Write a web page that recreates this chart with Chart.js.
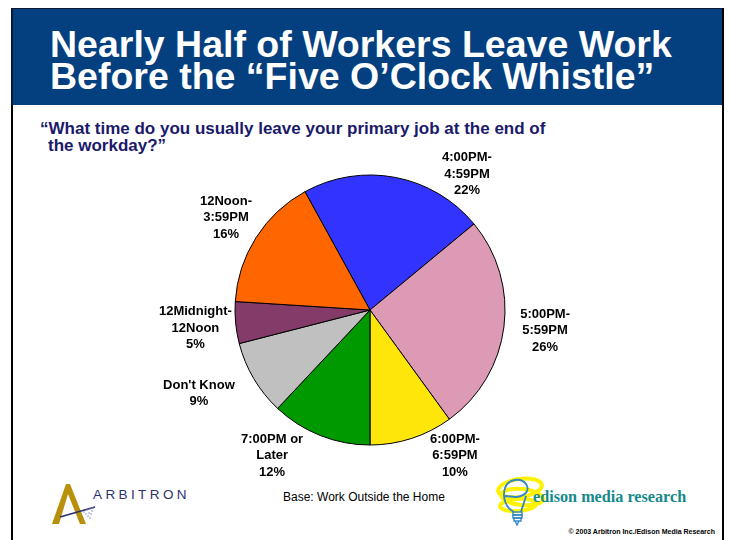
<!DOCTYPE html>
<html>
<head>
<meta charset="utf-8">
<script src="https://cdn.jsdelivr.net/npm/chart.js@4"></script>
<style>
  html, body { margin:0; padding:0; }
  body { width:730px; height:540px; position:relative; overflow:hidden; background:#fff;
         font-family:"Liberation Sans", Arial, sans-serif; }
  #frame { position:absolute; left:11px; top:8px; width:713px; height:540px; box-sizing:border-box;
           border-left:2px solid #000; border-right:2px solid #000; }
  #banner { position:absolute; left:11px; top:8px; width:713px; height:97px; box-sizing:border-box;
            background:#043F80; border-top:1px solid #0b1836; border-left:2px solid #0b1836; border-right:2px solid #000; }
  #title { position:absolute; left:50px; top:28px; color:#fff; font-weight:bold; font-size:37.5px;
           line-height:32px; white-space:nowrap; }
  #question { position:absolute; left:40px; top:120px; color:#1a1a6b; font-weight:bold; font-size:17px;
              line-height:17px; white-space:nowrap; }
  #question span { padding-left:8px; }
  #base { position:absolute; left:283px; top:490px; font-size:12px; line-height:14px; color:#000; white-space:nowrap; }
  #copy { position:absolute; right:15px; top:528px; font-size:7px; font-weight:bold; line-height:8px; color:#000; white-space:nowrap; }
  #arb { position:absolute; left:93px; top:487px; font-size:13.5px; line-height:16px; letter-spacing:3.4px; color:#2d3170; white-space:nowrap; }
  #edison { position:absolute; left:533px; top:488px; font-family:"Liberation Serif", "Times New Roman", serif;
            font-weight:bold; font-size:16.2px; line-height:18px; color:#168a8a; white-space:nowrap; }
  canvas { position:absolute; left:0; top:0; }
  svg { position:absolute; }
</style>
</head>
<body>
<div id="frame"></div>
<div id="banner"></div>
<div id="title">Nearly Half of Workers Leave Work<br>Before the “Five O’Clock Whistle”</div>
<div id="question">“What time do you usually leave your primary job at the end of<br><span>the workday?”</span></div>

<svg style="left:44px;top:478px" width="60" height="52" viewBox="44 478 60 52">
  <polygon points="52,524 66,484 70,484 86,524 80,524 68,494 59,524" fill="#B8900C"/>
  <line x1="60" y1="517" x2="95" y2="507" stroke="#2d3170" stroke-width="1.6"/>
  <g fill="#8a90c0">
    <circle cx="84" cy="512" r="0.8"/><circle cx="87" cy="510" r="0.8"/><circle cx="90" cy="509" r="0.8"/>
    <circle cx="93" cy="508" r="0.8"/><circle cx="86" cy="514" r="0.8"/><circle cx="89" cy="513" r="0.8"/>
    <circle cx="92" cy="511" r="0.8"/><circle cx="88" cy="516" r="0.8"/><circle cx="91" cy="514" r="0.8"/>
    <circle cx="90" cy="518" r="0.8"/>
  </g>
</svg>
<div id="arb">ARBITRON</div>

<svg style="left:494px;top:470px" width="56" height="58" viewBox="494 470 56 58">
  <g fill="none" stroke="#FFF200" stroke-width="4">
    <ellipse cx="520" cy="488" rx="22" ry="9" transform="rotate(-8 520 488)"/>
    <ellipse cx="522" cy="497" rx="21" ry="8" transform="rotate(6 522 497)"/>
    <ellipse cx="518" cy="505" rx="18" ry="6" transform="rotate(-4 518 505)"/>
  </g>
  <path d="M514,512 C506,508 502,498 505,488 C508,479 521,477 526,484 C530,490 526,496 516,497 L505,496 M526,496 C524,503 522,508 521,512"
        fill="none" stroke="#2f86c8" stroke-width="1.8"/>
  <g fill="none" stroke="#2f86c8" stroke-width="1.4">
    <rect x="513" y="512" width="9" height="3"/>
    <rect x="513" y="515" width="9" height="3"/>
    <rect x="514" y="518" width="7" height="3"/>
    <path d="M515,521 L517,525 L519,521"/>
  </g>
</svg>
<div id="edison">edison media research</div>
<div id="base">Base: Work Outside the Home</div>
<div id="copy">© 2003 Arbitron Inc./Edison Media Research</div>

<canvas id="c" width="730" height="540"></canvas>
<script>
// ---- data ----
const categories = ["4:00PM-\n4:59PM", "5:00PM-\n5:59PM", "6:00PM-\n6:59PM", "7:00PM or\nLater",
                    "Don't Know", "12Midnight-\n12Noon", "12Noon-\n3:59PM"];
const values = [22, 26, 10, 12, 9, 5, 16];
const colors = ["#3333FF", "#DD9AB4", "#FFE60A", "#009900", "#C0C0C0", "#843B6A", "#FF6600"];
// ---- label layout (angular shift from slice middle, in degrees; distance in radii) ----
const labelShift = [24.7, -0.4, -12.2, 12.3, 4.6, -0.5, 0.2];
const labelDist  = [1.237, 1.306, 1.25, 1.30, 1.41, 1.30, 1.266];

const labelPlugin = {
  id: 'outerLabels',
  afterDatasetsDraw(chart) {
    const ctx = chart.ctx;
    const meta = chart.getDatasetMeta(0);
    ctx.save();
    ctx.font = 'bold 13px "Liberation Sans", Arial, sans-serif';
    ctx.fillStyle = '#000';
    ctx.textAlign = 'center';
    ctx.textBaseline = 'middle';
    meta.data.forEach((arc, i) => {
      const p = arc.getProps(['x', 'y', 'startAngle', 'endAngle', 'outerRadius'], true);
      const a = (p.startAngle + p.endAngle) / 2 + labelShift[i] * Math.PI / 180;
      const px = p.x + Math.cos(a) * p.outerRadius * labelDist[i];
      const py = p.y + Math.sin(a) * p.outerRadius * labelDist[i];
      const lines = categories[i].split("\n").concat([values[i] + "%"]);
      const lh = 16.7;
      lines.forEach((t, k) => {
        ctx.fillText(t, px, py + (k - (lines.length - 1) / 2) * lh);
      });
    });
    ctx.restore();
  }
};

new Chart(document.getElementById('c'), {
  type: 'pie',
  data: {
    labels: categories,
    datasets: [{
      data: values,
      backgroundColor: colors,
      borderColor: '#000',
      borderWidth: 1,
      hoverOffset: 0
    }]
  },
  options: {
    responsive: false,
    animation: false,
    devicePixelRatio: 1,
    rotation: -28.8,
    radius: 135,
    layout: { padding: { left: 235, right: 225, top: 175, bottom: 95 } },
    plugins: { legend: { display: false }, tooltip: { enabled: false } }
  },
  plugins: [labelPlugin]
});
</script>
</body>
</html>
